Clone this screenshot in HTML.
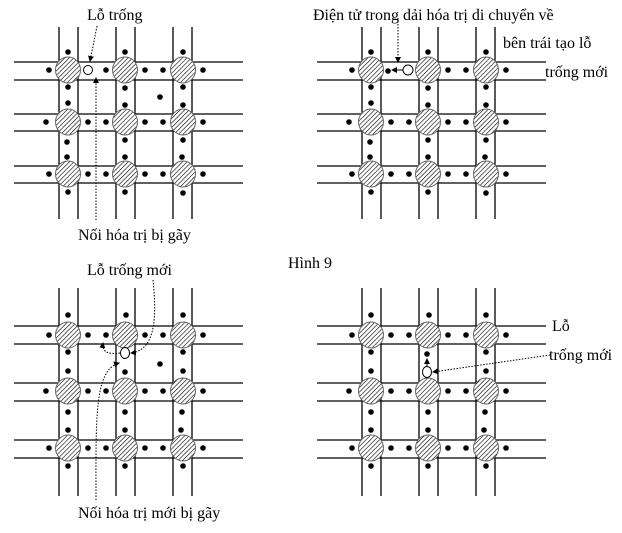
<!DOCTYPE html>
<html><head><meta charset="utf-8"><style>
html,body{margin:0;padding:0;background:#fff}
svg{display:block}
text{font-family:"Liberation Serif",serif;font-size:16px;fill:#000}
</style></head><body>
<svg width="622" height="533" viewBox="0 0 622 533" xmlns="http://www.w3.org/2000/svg">
<defs>
<pattern id="h" width="3.2" height="3.2" patternUnits="userSpaceOnUse" patternTransform="rotate(45)">
<rect width="3.2" height="3.2" fill="#fff"/><line x1="0" y1="0" x2="0" y2="3.2" stroke="#000" stroke-width="1.2"/>
</pattern>
<marker id="a" markerWidth="6" markerHeight="6" refX="5" refY="3" orient="auto"><path d="M0,0 L6,3 L0,6 z" fill="#000"/></marker>
<g id="T" stroke="#000" stroke-width="1.3">
<line x1="59" y1="27" x2="59" y2="219"/><line x1="78" y1="27" x2="78" y2="219"/>
<line x1="116" y1="27" x2="116" y2="219"/><line x1="135" y1="27" x2="135" y2="219"/>
<line x1="173" y1="27" x2="173" y2="219"/><line x1="192" y1="27" x2="192" y2="219"/>
<line x1="14" y1="62" x2="243" y2="62"/><line x1="14" y1="80" x2="243" y2="80"/>
<line x1="14" y1="114" x2="243" y2="114"/><line x1="14" y1="131" x2="243" y2="131"/>
<line x1="14" y1="166" x2="243" y2="166"/><line x1="14" y1="183" x2="243" y2="183"/>
<g fill="url(#h)" stroke="#666" stroke-width="1">
<ellipse cx="68" cy="70" rx="12.5" ry="13"/><ellipse cx="125" cy="70" rx="12.5" ry="13"/><ellipse cx="183" cy="70" rx="12.5" ry="13"/>
<ellipse cx="68" cy="122" rx="12.5" ry="13"/><ellipse cx="125" cy="122" rx="12.5" ry="13"/><ellipse cx="183" cy="122" rx="12.5" ry="13"/>
<ellipse cx="68" cy="174" rx="12.5" ry="13"/><ellipse cx="125" cy="174" rx="12.5" ry="13"/><ellipse cx="183" cy="174" rx="12.5" ry="13"/>
</g>
<g fill="#000" stroke="none">
<circle cx="68" cy="52" r="2.8"/><circle cx="125" cy="52" r="2.8"/><circle cx="183" cy="52" r="2.8"/>
<circle cx="49" cy="70" r="2.8"/><circle cx="145" cy="70" r="2.8"/><circle cx="163" cy="70" r="2.8"/><circle cx="203" cy="70" r="2.8"/>
<circle cx="68" cy="87" r="2.8"/><circle cx="68" cy="103" r="2.8"/><circle cx="125" cy="88" r="2.8"/><circle cx="125" cy="105" r="2.8"/><circle cx="183" cy="87" r="2.8"/><circle cx="183" cy="105" r="2.8"/>
<circle cx="46" cy="122" r="2.8"/><circle cx="88" cy="122" r="2.8"/><circle cx="106" cy="122" r="2.8"/><circle cx="145" cy="122" r="2.8"/><circle cx="163" cy="122" r="2.8"/><circle cx="203" cy="122" r="2.8"/>
<circle cx="67" cy="142" r="2.8"/><circle cx="67" cy="157" r="2.8"/><circle cx="125" cy="140" r="2.8"/><circle cx="125" cy="157" r="2.8"/><circle cx="183" cy="140" r="2.8"/><circle cx="182" cy="157" r="2.8"/>
<circle cx="49" cy="174" r="2.8"/><circle cx="88" cy="174" r="2.8"/><circle cx="106" cy="174" r="2.8"/><circle cx="145" cy="174" r="2.8"/><circle cx="163" cy="174" r="2.8"/><circle cx="203" cy="174" r="2.8"/>
<circle cx="68" cy="192" r="2.8"/><circle cx="125" cy="192" r="2.8"/><circle cx="183" cy="193" r="2.8"/>
</g>
</g>
<g id="B" stroke="#000" stroke-width="1.3">
<line x1="59" y1="288" x2="59" y2="496"/><line x1="78" y1="288" x2="78" y2="496"/>
<line x1="116" y1="288" x2="116" y2="496"/><line x1="135" y1="288" x2="135" y2="496"/>
<line x1="173" y1="288" x2="173" y2="496"/><line x1="192" y1="288" x2="192" y2="496"/>
<line x1="14" y1="326" x2="243" y2="326"/><line x1="14" y1="344" x2="243" y2="344"/>
<line x1="14" y1="383" x2="243" y2="383"/><line x1="14" y1="401" x2="243" y2="401"/>
<line x1="14" y1="440" x2="243" y2="440"/><line x1="14" y1="458" x2="243" y2="458"/>
<g fill="url(#h)" stroke="#666" stroke-width="1">
<ellipse cx="68" cy="335" rx="12.5" ry="13"/><ellipse cx="125" cy="335" rx="12.5" ry="13"/><ellipse cx="183" cy="335" rx="12.5" ry="13"/>
<ellipse cx="68" cy="391" rx="12.5" ry="13"/><ellipse cx="125" cy="391" rx="12.5" ry="13"/><ellipse cx="183" cy="391" rx="12.5" ry="13"/>
<ellipse cx="68" cy="448" rx="12.5" ry="13"/><ellipse cx="125" cy="448" rx="12.5" ry="13"/><ellipse cx="183" cy="448" rx="12.5" ry="13"/>
</g>
<g fill="#000" stroke="none">
<circle cx="68" cy="315" r="2.8"/><circle cx="126" cy="315" r="2.8"/><circle cx="183" cy="315" r="2.8"/>
<circle cx="49" cy="335" r="2.8"/><circle cx="88" cy="335" r="2.8"/><circle cx="106" cy="335" r="2.8"/><circle cx="145" cy="335" r="2.8"/><circle cx="163" cy="335" r="2.8"/><circle cx="203" cy="335" r="2.8"/>
<circle cx="68" cy="352" r="2.8"/><circle cx="68" cy="371" r="2.8"/><circle cx="183" cy="352" r="2.8"/><circle cx="183" cy="371" r="2.8"/>
<circle cx="46" cy="391" r="2.8"/><circle cx="88" cy="391" r="2.8"/><circle cx="106" cy="391" r="2.8"/><circle cx="145" cy="391" r="2.8"/><circle cx="163" cy="391" r="2.8"/><circle cx="203" cy="391" r="2.8"/>
<circle cx="68" cy="412" r="2.8"/><circle cx="68" cy="430" r="2.8"/><circle cx="125" cy="412" r="2.8"/><circle cx="125" cy="430" r="2.8"/><circle cx="182" cy="412" r="2.8"/><circle cx="181" cy="430" r="2.8"/>
<circle cx="49" cy="448" r="2.8"/><circle cx="88" cy="448" r="2.8"/><circle cx="106" cy="448" r="2.8"/><circle cx="145" cy="448" r="2.8"/><circle cx="163" cy="448" r="2.8"/><circle cx="203" cy="448" r="2.8"/>
<circle cx="68" cy="466" r="2.8"/><circle cx="125" cy="466" r="2.8"/><circle cx="183" cy="466" r="2.8"/>
</g>
</g>
</defs>

<use href="#T"/>
<circle cx="88" cy="70" r="4.5" fill="#fff" stroke="#000" stroke-width="1"/>
<circle cx="106" cy="70" r="2.8"/>
<circle cx="160" cy="97" r="2.8"/>
<line x1="97" y1="26" x2="90" y2="61" stroke="#000" stroke-width="1" stroke-dasharray="1.5,1.5" marker-end="url(#a)"/>
<line x1="96" y1="220" x2="96" y2="78" stroke="#000" stroke-width="1" stroke-dasharray="1.5,1.5" marker-end="url(#a)"/>
<text x="87" y="20">Lỗ trống</text>
<text x="78" y="240">Nối hóa trị bị gãy</text>

<use href="#T" transform="translate(303,0)"/>
<circle cx="388" cy="71" r="2.8"/>
<circle cx="408" cy="70" r="5" fill="#fff" stroke="#000" stroke-width="1"/>
<line x1="403" y1="70" x2="392" y2="70" stroke="#000" stroke-width="1" marker-end="url(#a)"/>
<line x1="398" y1="18" x2="398" y2="62" stroke="#000" stroke-width="1" stroke-dasharray="1.5,1.5" marker-end="url(#a)"/>
<text x="313" y="20">Điện tử trong dải hóa trị di chuyển về</text>
<text x="503" y="48">bên trái tạo lỗ</text>
<text x="545" y="77">trống mới</text>

<text x="288" y="268">Hình 9</text>

<use href="#B"/>
<ellipse cx="125" cy="353" rx="4.5" ry="5.5" fill="#fff" stroke="#000" stroke-width="1"/>
<circle cx="125" cy="372" r="2.8"/>
<circle cx="160" cy="364" r="2.8"/>
<path d="M153,280 C156,310 158,350 131,353" fill="none" stroke="#000" stroke-width="1" stroke-dasharray="1.5,1.5" marker-end="url(#a)"/>
<path d="M120,353 C105,355 102,350 103,343" fill="none" stroke="#000" stroke-width="1" stroke-dasharray="1.5,1.5" marker-end="url(#a)"/>
<path d="M96,500 C96,420 94,370 119,363" fill="none" stroke="#000" stroke-width="1" stroke-dasharray="1.5,1.5" marker-end="url(#a)"/>
<text x="87" y="275">Lỗ trống mới</text>
<text x="78" y="518">Nối hóa trị mới bị gãy</text>

<use href="#B" transform="translate(303,0)"/>
<circle cx="427" cy="354" r="2.8"/>
<ellipse cx="427" cy="372" rx="4.5" ry="5.5" fill="#fff" stroke="#000" stroke-width="1"/>
<line x1="427" y1="366" x2="427" y2="359" stroke="#000" stroke-width="1" marker-end="url(#a)"/>
<line x1="550" y1="355" x2="433" y2="372" stroke="#000" stroke-width="1" stroke-dasharray="1.5,1.5" marker-end="url(#a)"/>
<text x="552" y="331">Lỗ</text>
<text x="549" y="360">trống mới</text>
</svg>
</body></html>
